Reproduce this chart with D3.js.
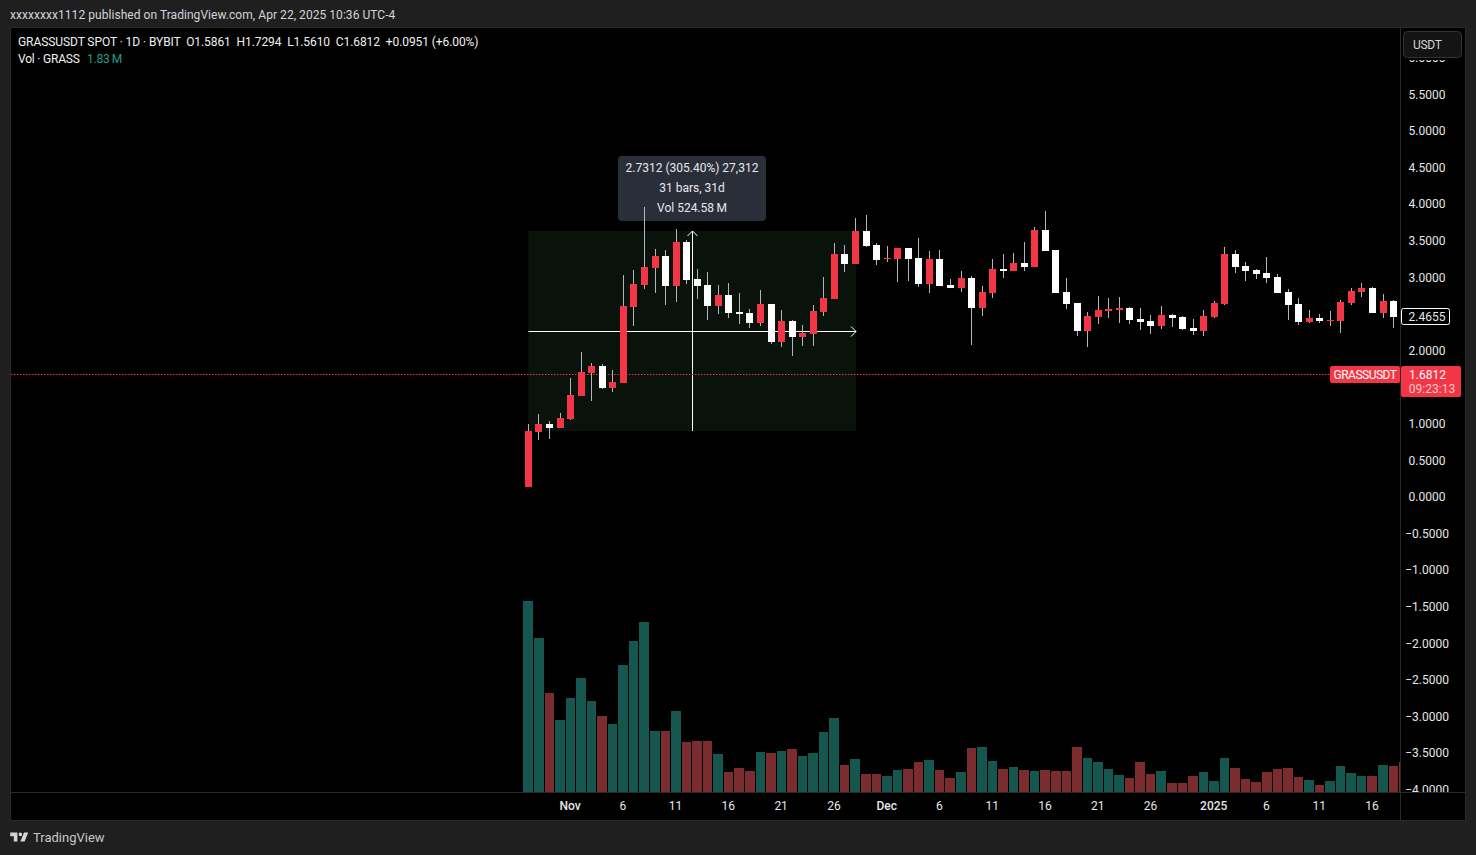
<!DOCTYPE html>
<html>

<head>
  <meta charset="utf-8">
  <title></title>
  <style>
    html, body { margin: 0; padding: 0; background: #1f1f1f; overflow: hidden; }
    svg { display: block; }
    text { font-family: Roboto, "Liberation Sans", sans-serif; font-size: 12px; }
  </style>
</head>

<body>

  <script src="https://d3js.org/d3.v7.min.js" charset="utf-8"></script>
  <script type="text/javascript">
    // daily candles from Oct 28 2024
    var opens = [0.130, 0.881, 0.990, 0.936, 1.059, 1.373, 1.687, 1.783, 1.482, 1.551, 2.589, 2.890, 3.122, 3.286, 2.876, 3.477, 2.971, 2.890, 2.603, 2.753, 2.521, 2.507, 2.370, 2.630, 2.111, 2.398, 2.179, 2.220, 2.521, 2.698, 3.313, 3.176,
      3.627, 3.436, 3.245, 3.245, 3.395, 3.258, 2.903, 3.245, 2.890, 2.849, 2.985, 2.575, 2.780, 3.108, 3.081, 3.190, 3.135, 3.641, 3.368, 2.794, 2.644, 2.261, 2.452, 2.534, 2.548, 2.575,
      2.425, 2.398, 2.329, 2.480, 2.452, 2.302, 2.261, 2.452, 2.630, 3.313, 3.149, 3.094, 3.053, 2.999, 2.794, 2.630, 2.384, 2.439, 2.398, 2.398, 2.644, 2.794, 2.849, 2.507, 2.671];
    var highs = [0.990, 1.127, 1.031, 1.141, 1.619, 1.974, 1.824, 1.810, 1.728, 3.026, 3.094, 3.955, 3.381, 3.368, 3.655, 3.504, 3.108, 3.067, 2.890, 2.917, 2.780, 2.562, 2.821, 2.630, 2.548, 2.411, 2.343, 2.616, 2.999, 3.463, 3.436, 3.805,
      3.846, 3.463, 3.422, 3.395, 3.395, 3.532, 3.354, 3.368, 2.971, 3.081, 3.012, 2.876, 3.245, 3.313, 3.327, 3.477, 3.682, 3.900, 3.368, 2.985, 2.644, 2.521, 2.739, 2.712, 2.726, 2.589,
      2.575, 2.480, 2.603, 2.493, 2.466, 2.425, 2.548, 2.671, 3.409, 3.368, 3.204, 3.108, 3.272, 3.040, 2.835, 2.712, 2.548, 2.493, 2.534, 2.685, 2.849, 2.917, 2.862, 2.766, 2.685];
    var lows = [0.130, 0.772, 0.786, 0.936, 1.045, 1.373, 1.305, 1.469, 1.428, 1.551, 2.329, 2.835, 2.780, 2.616, 2.657, 2.903, 2.698, 2.411, 2.493, 2.439, 2.357, 2.302, 2.329, 2.083, 2.042, 1.920, 2.056, 2.056, 2.466, 2.698, 3.067, 3.176,
      3.409, 3.163, 3.204, 2.930, 2.944, 2.862, 2.780, 2.876, 2.849, 2.794, 2.070, 2.466, 2.712, 2.985, 3.081, 3.081, 3.135, 3.354, 2.780, 2.562, 2.193, 2.042, 2.357, 2.439, 2.370, 2.357,
      2.275, 2.220, 2.288, 2.316, 2.275, 2.206, 2.193, 2.439, 2.616, 3.053, 2.944, 2.971, 2.917, 2.780, 2.411, 2.343, 2.370, 2.370, 2.329, 2.234, 2.616, 2.726, 2.507, 2.439, 2.302];
    var closes = [0.895, 0.990, 0.936, 1.072, 1.387, 1.701, 1.783, 1.482, 1.564, 2.603, 2.903, 3.135, 3.286, 2.876, 3.477, 2.958, 2.876, 2.603, 2.753, 2.507, 2.493, 2.370, 2.630, 2.111, 2.398, 2.179, 2.234, 2.534, 2.712, 3.313, 3.176, 3.627,
      3.422, 3.231, 3.258, 3.395, 3.245, 2.903, 3.245, 2.876, 2.849, 2.985, 2.575, 2.794, 3.108, 3.081, 3.190, 3.135, 3.641, 3.354, 2.780, 2.630, 2.261, 2.466, 2.548, 2.562, 2.575, 2.411,
      2.384, 2.329, 2.480, 2.439, 2.288, 2.261, 2.466, 2.644, 3.313, 3.135, 3.081, 3.040, 2.985, 2.780, 2.616, 2.384, 2.439, 2.398, 2.411, 2.657, 2.808, 2.849, 2.507, 2.671, 2.452];
    // volume in millions, one more bar than candles (the last is cut by the axis)
    var volumes = [44.24, 35.67, 22.93, 16.68, 21.77, 26.40, 21.08, 17.60, 15.75, 29.41, 34.97, 39.37, 14.13, 14.13, 18.76, 11.58, 11.81, 11.81, 8.80, 4.63, 5.56, 4.86, 9.26, 9.03, 9.50, 9.96, 8.34, 9.03, 13.90, 17.14, 6.25, 7.64,
      4.17, 4.17, 3.71, 5.10, 5.33, 6.95, 7.41, 5.10, 3.24, 4.63, 10.19, 10.42, 7.18, 5.33, 5.79, 5.10, 4.86, 5.10, 4.86, 4.86, 10.42, 7.87, 6.95, 5.33, 3.94, 3.24,
      6.95, 4.17, 4.86, 2.08, 2.08, 3.71, 4.63, 2.55, 7.87, 5.56, 3.01, 2.32, 4.63, 5.33, 5.56, 3.47, 2.78, 1.62, 2.55, 6.02, 4.40, 3.71, 3.71, 6.25, 6.02, 6.95];

    var timeLabels = ["Nov", "6", "11", "16", "21", "26", "Dec", "6", "11", "16", "21", "26", "2025", "6", "11", "16"];
    var timeIndex = [4, 9, 14, 19, 24, 29, 34, 39, 44, 49, 54, 59, 65, 70, 75, 80];
    var boldLabels = ["Nov", "Dec", "2025"];
    var priceTicks = [6, 5.5, 5, 4.5, 4, 3.5, 3, 2, 1, 0.5, 0, -0.5, -1, -1.5, -2, -2.5, -3, -3.5, -4];

    var lastPrice = 1.6812;
    var cursorPrice = 2.4655;
    var measureFrom = 0.8954;
    var measureTo = 3.6266;
    var measureStart = 0;
    var measureEnd = 31;
    var measureLines = ["2.7312 (305.40%) 27,312", "31 bars, 31d", "Vol 524.58\u2009M"];

    var width = 1476;
    var height = 855;
    var red = "#f23645";
    var volRed = "#7a2c2e";
    var volGreen = "#15564f";

    var x = d3.scaleLinear().domain([0, 82]).range([528.4, 1393.6]);
    var y = d3.scaleLinear().domain([0, 5.5]).range([496.5, 94]);
    var yVol = d3.scaleLinear().domain([0, 44.24]).range([792, 601]);

    var svg = d3.select("body")
      .append("svg")
      .attr("width", width)
      .attr("height", height);

    var defs = svg.append("defs");
    defs.append("clipPath").attr("id", "plot")
      .append("rect").attr("x", 11).attr("y", 28).attr("width", 1389).attr("height", 764);
    defs.append("clipPath").attr("id", "scale")
      .append("rect").attr("x", 1401).attr("y", 60).attr("width", 64).attr("height", 732);

    svg.append("rect").attr("width", width).attr("height", height).attr("fill", "#1f1f1f");
    // chart frame
    svg.append("rect")
      .attr("x", 10.5).attr("y", 27.5).attr("width", 1455).attr("height", 793)
      .attr("fill", "#000").attr("stroke", "#2a2a2a");
    svg.append("line").attr("x1", 1400.5).attr("x2", 1400.5).attr("y1", 28).attr("y2", 820).attr("stroke", "#2a2a2a");
    svg.append("line").attr("x1", 11).attr("x2", 1465).attr("y1", 792.5).attr("y2", 792.5).attr("stroke", "#2a2a2a");

    var plot = svg.append("g").attr("clip-path", "url(#plot)");

    // volume
    plot.append("g").selectAll("rect").data(volumes).enter().append("rect")
      .attr("x", function(d, i) { return Math.round(x(i) - 5); })
      .attr("width", function(d, i) { return Math.round(x(i + 1) - 5) - Math.round(x(i) - 5) - 1; })
      .attr("y", function(d) { return Math.round(yVol(d)); })
      .attr("height", function(d) { return 792 - Math.round(yVol(d)); })
      .attr("fill", function(d, i) {
        if (i >= opens.length || closes[i] < opens[i]) return volRed;
        return volGreen;
      });

    // measure tool
    var mx1 = x(measureStart), mx2 = x(measureEnd) + 0.5;
    var my1 = Math.round(y(measureFrom)), my2 = Math.round(y(measureTo));
    var mxMid = Math.round((mx1 + mx2) / 2) + 0.5;
    var myMid = Math.round((my1 + my2) / 2) + 0.5;
    plot.append("rect")
      .attr("x", mx1).attr("y", my2).attr("width", mx2 - mx1).attr("height", my1 - my2)
      .attr("fill", "#09130b");
    plot.append("line").attr("x1", mx1).attr("x2", mx2).attr("y1", myMid).attr("y2", myMid).attr("stroke", "#fff");
    plot.append("line").attr("x1", mxMid).attr("x2", mxMid).attr("y1", my1).attr("y2", my2).attr("stroke", "#fff");
    plot.append("path")
      .attr("d", "M" + (mx2 - 5) + "," + (myMid - 5) + "L" + mx2 + "," + myMid + "L" + (mx2 - 5) + "," + (myMid + 5))
      .attr("fill", "none").attr("stroke", "#fff");
    plot.append("path")
      .attr("d", "M" + (mxMid - 5) + "," + (my2 + 5) + "L" + mxMid + "," + my2 + "L" + (mxMid + 5) + "," + (my2 + 5))
      .attr("fill", "none").attr("stroke", "#fff");

    var mBox = plot.append("g");
    mBox.append("rect")
      .attr("x", mxMid - 74.5).attr("y", my2 - 75).attr("width", 148).attr("height", 65).attr("rx", 4)
      .attr("fill", "#2a2e39");
    mBox.selectAll("text").data(measureLines).enter().append("text")
      .attr("x", mxMid - 0.5)
      .attr("y", function(d, i) { return my2 - 59 + i * 20; })
      .attr("text-anchor", "middle")
      .attr("fill", "#e6e8ee")
      .text(function(d) { return d; });

    // last price line
    plot.append("line")
      .attr("x1", 11).attr("x2", 1400)
      .attr("y1", Math.round(y(lastPrice)) + 1.5).attr("y2", Math.round(y(lastPrice)) + 1.5)
      .attr("stroke", red).attr("stroke-dasharray", "1.5 1.5");

    // candles
    var candles = plot.append("g").selectAll("g").data(opens).enter().append("g");
    candles.append("rect")
      .attr("x", function(d, i) { return Math.round(x(i) - 0.5); })
      .attr("width", 1)
      .attr("y", function(d, i) { return Math.round(y(highs[i])); })
      .attr("height", function(d, i) { return Math.round(y(lows[i])) - Math.round(y(highs[i])); })
      .attr("fill", "#b2b5be");
    candles.append("rect")
      .attr("x", function(d, i) { return Math.round(x(i) - 3.5); })
      .attr("width", 7)
      .attr("y", function(d, i) { return Math.round(y(Math.max(d, closes[i]))); })
      .attr("height", function(d, i) {
        return Math.max(1, Math.round(y(Math.min(d, closes[i]))) - Math.round(y(Math.max(d, closes[i]))));
      })
      .attr("fill", function(d, i) { return closes[i] >= d ? red : "#fff"; });

    // price axis
    var priceAxis = d3.axisRight(y)
      .tickValues(priceTicks)
      .tickSize(0)
      .tickFormat(d3.format(".4f"));
    var priceG = svg.append("g")
      .attr("clip-path", "url(#scale)")
      .append("g")
      .attr("transform", "translate(1427,0)")
      .call(priceAxis);
    priceG.select(".domain").remove();
    priceG.selectAll("text")
      .attr("x", 0).attr("dy", "0.35em")
      .attr("text-anchor", "middle")
      .attr("fill", "#e6e6e6")
      .style("font-size", "12px")
      .style("font-family", "Roboto, sans-serif");

    // time axis
    var timeAxis = d3.axisBottom(x)
      .tickValues(timeIndex)
      .tickSize(0)
      .tickFormat(function(d) { return timeLabels[timeIndex.indexOf(d)]; });
    var timeG = svg.append("g")
      .attr("transform", "translate(-1,793)")
      .call(timeAxis);
    timeG.select(".domain").remove();
    timeG.selectAll("text")
      .attr("y", 13).attr("dy", "0.35em")
      .attr("fill", "#e6e6e6")
      .style("font-size", "12px")
      .style("font-family", "Roboto, sans-serif")
      .style("font-weight", function(d) {
        return boldLabels.indexOf(timeLabels[timeIndex.indexOf(d)]) >= 0 ? 500 : 400;
      });

    // cursor price label
    svg.append("rect")
      .attr("x", 1401.5).attr("y", Math.round(y(cursorPrice)) - 7.5).attr("width", 48).attr("height", 16).attr("rx", 2)
      .attr("fill", "#000").attr("stroke", "#fff");
    svg.append("text")
      .attr("x", 1427).attr("y", y(cursorPrice) + 0.5).attr("dy", "0.35em").attr("text-anchor", "middle")
      .attr("fill", "#e6e6e6").text(d3.format(".4f")(cursorPrice));

    // last price labels
    var ly = Math.round(y(lastPrice)) + 1;
    svg.append("rect").attr("x", 1330).attr("y", ly - 8).attr("width", 70).attr("height", 17).attr("rx", 2).attr("fill", red);
    svg.append("text").attr("x", 1365).attr("y", ly + 1).attr("dy", "0.35em").attr("text-anchor", "middle")
      .attr("fill", "#fff").style("letter-spacing", "-0.5px").text("GRASSUSDT");
    svg.append("rect").attr("x", 1401).attr("y", ly - 8).attr("width", 60).attr("height", 31).attr("rx", 2).attr("fill", red);
    svg.append("text").attr("x", 1409).attr("y", ly + 1).attr("dy", "0.35em")
      .attr("fill", "#fff").text(d3.format(".4f")(lastPrice));
    svg.append("text").attr("x", 1432).attr("y", ly + 15).attr("dy", "0.35em").attr("text-anchor", "middle")
      .attr("fill", "#fcc8cc").text("09:23:13");

    // currency button
    svg.append("rect")
      .attr("x", 1403.5).attr("y", 31.5).attr("width", 58).attr("height", 26).attr("rx", 4)
      .attr("fill", "#141414").attr("stroke", "#333");
    svg.append("text").attr("x", 1413).attr("y", 44.5).attr("dy", "0.35em").attr("fill", "#d6d6d6")
      .style("letter-spacing", "-0.3px").text("USDT");

    // header
    svg.append("text").attr("x", 10).attr("y", 15).attr("dy", "0.35em").attr("fill", "#d1d4dc")
      .style("letter-spacing", "0.05px")
      .text("xxxxxxxx1112 published on TradingView.com, Apr 22, 2025 10:36 UTC-4");
    svg.append("text").attr("x", 18).attr("y", 42).attr("dy", "0.35em").attr("fill", "#f0f0f0").attr("xml:space", "preserve")
      .style("letter-spacing", "-0.08px")
      .text("GRASSUSDT SPOT \u00b7 1D \u00b7 BYBIT  O1.5861  H1.7294  L1.5610  C1.6812  +0.0951 (+6.00%)");
    svg.append("text").attr("x", 18).attr("y", 59).attr("dy", "0.35em").attr("fill", "#f0f0f0")
      .style("letter-spacing", "-0.2px")
      .text("Vol \u00b7 GRASS");
    svg.append("text").attr("x", 87).attr("y", 59).attr("dy", "0.35em").attr("fill", "#1f9e8a")
      .style("letter-spacing", "-0.2px")
      .text("1.83\u2009M");

    // footer logo
    svg.append("path")
      .attr("transform", "translate(9,829) scale(0.6)")
      .attr("d", "M14 6H2v6h6v9h6V6zm12 15h-7l6-15h7l-6 15zm-7-9a3 3 0 1 0 0-6 3 3 0 0 0 0 6z")
      .attr("fill", "#d6d6d6");
    svg.append("text").attr("x", 33).attr("y", 837.5).attr("dy", "0.35em").attr("fill", "#c8c8c8")
      .style("font-size", "13px").text("TradingView");
  </script>
</body>

</html>
